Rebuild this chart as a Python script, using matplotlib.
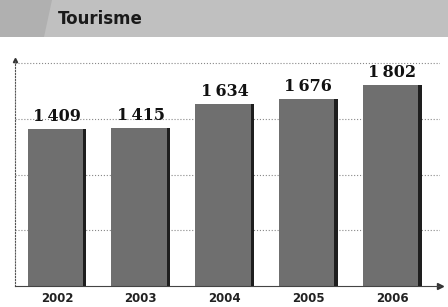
import matplotlib.pyplot as plt
from matplotlib.patches import Rectangle, Polygon

# chart data
years = ['2002', '2003', '2004', '2005', '2006']
values = [1409, 1415, 1634, 1676, 1802]
labels = ['1\u2009409', '1\u2009415', '1\u2009634', '1\u2009676', '1\u2009802']


def main():
    fig = plt.figure(figsize=(4.48, 3.07), dpi=100)

    # grey banner with the title
    fig.patches.append(Rectangle((0, 1 - 37 / 307), 1, 37 / 307, transform=fig.transFigure,
                                 facecolor='#c0c0c0', edgecolor='none', zorder=0))
    fig.patches.append(Polygon([(0, 1 - 37 / 307), (0, 1), (52 / 448, 1), (44 / 448, 1 - 37 / 307)],
                               closed=True, transform=fig.transFigure,
                               facecolor='#b0b0b0', edgecolor='none', zorder=0))
    fig.text(58 / 448, 1 - 19 / 307, 'Tourisme', fontsize=12, fontweight='bold',
             color='#1a1a1a', va='center', ha='left')

    ax = fig.add_axes([15 / 448, 21 / 307, 425 / 448, 226 / 307])
    x = range(len(years))
    bars = ax.bar(x, values, width=0.7, color='#6f6f6f', edgecolor='none', zorder=2)
    # darker right edge of each bar
    for b in bars:
        ax.bar(b.get_x() + b.get_width() - 0.02, b.get_height(), width=0.04,
               color='#1e1e1e', edgecolor='none', zorder=3)

    for i, v in enumerate(values):
        ax.text(i, v + 40, labels[i], ha='center', va='bottom', fontsize=11.5,
                fontweight='bold', family='DejaVu Serif', color='#111111', zorder=4)

    ax.set_xlim(-0.5, 4.57)
    ax.set_ylim(0, 2030)
    ax.set_yticks([500, 1000, 1500, 2000])
    ax.set_yticklabels([])
    ax.tick_params(axis='y', length=0)
    ax.tick_params(axis='x', length=0, pad=4)
    ax.set_xticks(list(x))
    ax.set_xticklabels(years, fontsize=8.5, fontweight='bold', color='#222222')
    ax.grid(axis='y', linestyle=':', color='#888888', linewidth=0.8, zorder=1)

    for s in ['top', 'right']:
        ax.spines[s].set_visible(False)
    ax.spines['left'].set_linestyle(':')
    ax.spines['left'].set_color('#555555')
    ax.spines['bottom'].set_linestyle((0, (2, 1)))
    ax.spines['bottom'].set_color('#444444')

    # axis arrows
    ax.plot(1, 0, '>', transform=ax.transAxes, color='#333333', markersize=4, clip_on=False)
    ax.plot(0, 1, '^', transform=ax.transAxes, color='#333333', markersize=3, clip_on=False)

    plt.savefig('out.png', dpi=100)


main()
